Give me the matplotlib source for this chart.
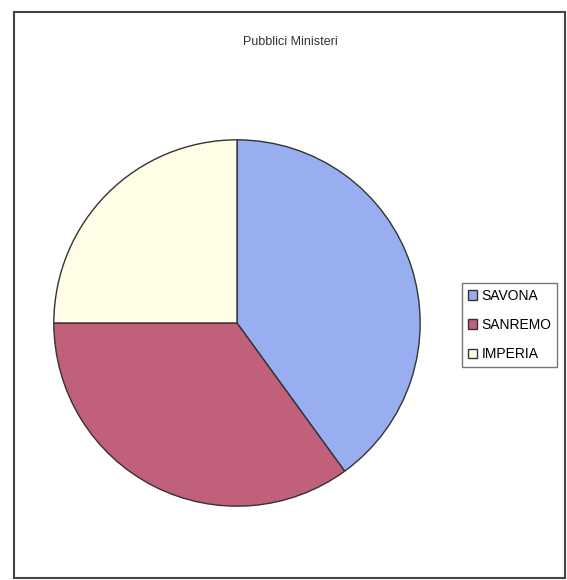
import matplotlib.pyplot as plt
from matplotlib.patches import Rectangle

plt.rcParams['font.family'] = ['Liberation Sans', 'DejaVu Sans']

sedi = ['SAVONA', 'SANREMO', 'IMPERIA']
valori = [40, 35, 25]
colori = ['#98aef0', '#c0607a', '#fffde6']

fig = plt.figure(figsize=(5.67, 5.80), dpi=100)
fig.patch.set_facecolor('white')

# cornice del grafico
fig.patches.append(Rectangle((14 / 567, 2 / 580), 551 / 567, 566 / 580,
                             transform=fig.transFigure, fill=False,
                             edgecolor='#444444', linewidth=1.5))

ax = fig.add_axes([52 / 567, 72 / 580, 370 / 567, 370 / 580])
spicchi, _ = ax.pie(valori, colors=colori, startangle=90, counterclock=False,
                    wedgeprops={'edgecolor': '#333333', 'linewidth': 1.0})
ax.set_xlim(-1.01, 1.01)
ax.set_ylim(-1.01, 1.01)

fig.text(290 / 567, 1 - 42 / 580, 'Pubblici Ministeri', ha='center', va='center',
         fontsize=9, color='#333333')

leg = fig.legend(spicchi, sedi, loc='center left',
                 bbox_to_anchor=(462 / 567, 1 - 325 / 580),
                 fontsize=10, frameon=True, fancybox=False,
                 handlelength=0.7, handleheight=0.7, handletextpad=0.3,
                 borderpad=0.4, labelspacing=1.1, borderaxespad=0)
leg.get_frame().set_edgecolor('#555555')
leg.get_frame().set_linewidth(1.0)

fig.savefig('out.png', dpi=100)
